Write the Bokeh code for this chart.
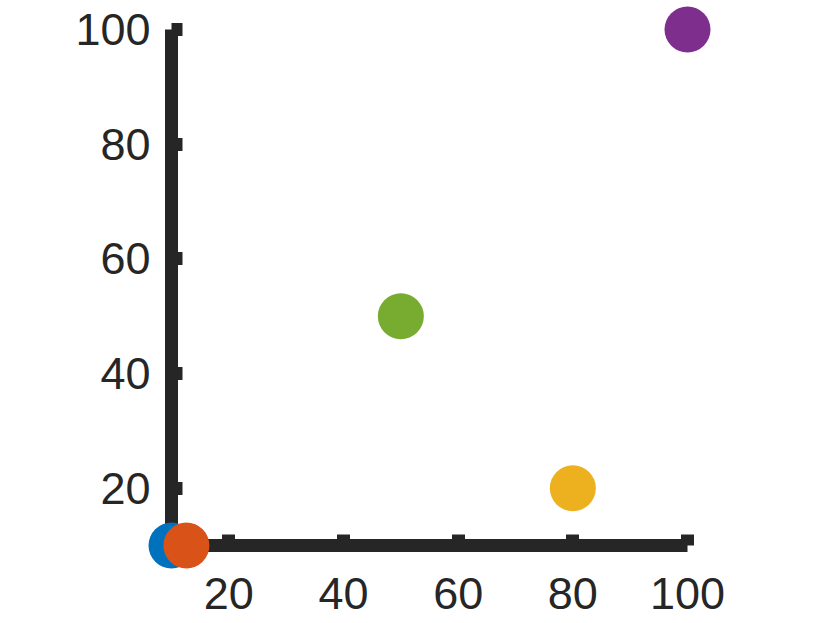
from bokeh.plotting import figure
from bokeh.models import Range1d, FixedTicker, ColumnDataSource
from bokeh.embed import file_html
from bokeh.resources import INLINE

xs = [10, 12.6, 50, 80, 100]
ys = [10, 10, 50, 20, 100]
colors = ["#0072BD", "#D95319", "#77AC30", "#EDB120", "#7E2F8E"]
x_ticks = [20, 40, 60, 80, 100]
y_ticks = [20, 40, 60, 80, 100]

p = figure(width=814, height=621, output_backend="svg", toolbar_location=None,
           x_range=Range1d(10, 100), y_range=Range1d(10, 100),
           min_border_left=171, min_border_right=127, min_border_top=29, min_border_bottom=76)
p.frame_width = 516
p.frame_height = 516
p.outline_line_color = None
p.grid.visible = False
p.background_fill_color = "white"

src = ColumnDataSource(dict(x=xs, y=ys, c=colors))
r = p.scatter("x", "y", source=src, size=46, fill_color="c", line_color=None)
r.level = "overlay"

for ax, ticks in ((p.xaxis[0], x_ticks), (p.yaxis[0], y_ticks)):
    ax.ticker = FixedTicker(ticks=ticks)
    ax.minor_tick_line_color = None
    ax.axis_line_width = 13
    ax.axis_line_color = "#262626"
    ax.major_tick_line_width = 13
    ax.major_tick_line_color = "#262626"
    ax.major_tick_in = 11
    ax.major_tick_out = 0
    ax.major_label_text_font = "Liberation Sans"
    ax.major_label_text_font_size = "45px"
    ax.major_label_text_color = "#262626"

p.xaxis[0].major_label_standoff = 32
p.yaxis[0].major_label_standoff = 21

open("out.html", "w").write(file_html(p, INLINE))
